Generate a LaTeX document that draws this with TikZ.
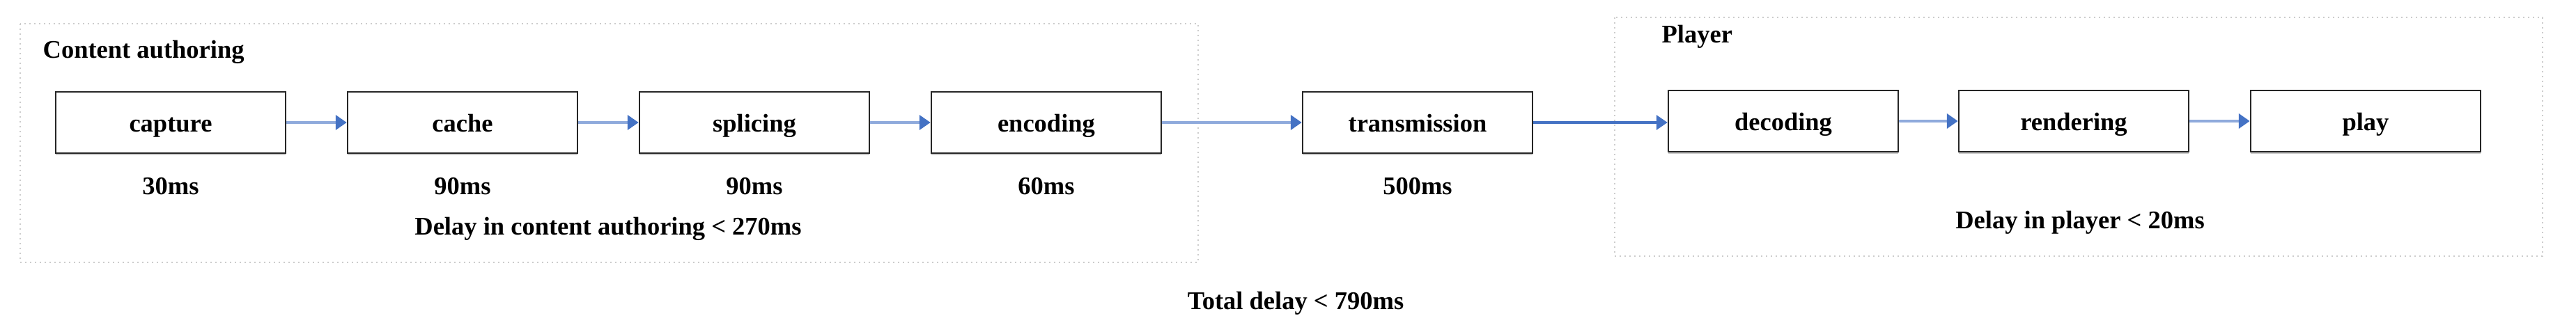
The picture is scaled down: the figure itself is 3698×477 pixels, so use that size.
\documentclass[tikz,border=0pt]{standalone}
\usepackage{fontspec}
\setmainfont{Liberation Serif}
\usetikzlibrary{arrows.meta}
\definecolor{lblue}{HTML}{8FAADC}
\definecolor{dblue}{HTML}{4472C4}
\begin{document}
\begin{tikzpicture}[x=0.2pt,y=-0.2pt,
  font=\fontsize{7.3}{9}\selectfont\bfseries,
  stepbox/.style={draw=black!85,line width=0.5pt,minimum width=66pt,minimum height=17.6pt,inner sep=0pt,fill=white,text height=1.5ex,text depth=0.3ex},
  grp/.style={draw=black!20,densely dotted,line width=0.4pt},
  arr/.style={lblue,line width=0.9pt,-{Triangle[length=3.2pt,width=4.2pt,fill=dblue,color=dblue]}},
  darr/.style={dblue,line width=0.7pt,-{Triangle[length=3.2pt,width=4.2pt]}}]
\useasboundingbox (0,0) rectangle (3698,477);
\draw[grp] (29,34) rectangle (1720,377);
\draw[grp] (2318,25) rectangle (3650,368);
\node[anchor=west] (ca) at (44,75) {Content authoring};
\node[anchor=west] (pl) at (2368,53) {Player};
\foreach \n/\x/\y/\t in {cap/245/176/capture,cac/664/176/cache,spl/1083/176/splicing,enc/1502/176/encoding,tra/2035/176/transmission,dec/2560/174/decoding,ren/2977/174/rendering,pla/3396/174/play}{
  \fill[black!20] (\x-165,\y+44) rectangle (\x+165,\y+47);
  \node[stepbox] (\n) at (\x,\y) {\t};
}
\draw[arr] (cap) -- (cac);
\draw[arr] (cac) -- (spl);
\draw[arr] (spl) -- (enc);
\draw[arr] (enc.east) -- (tra.west);
\draw[darr] (tra.east) -- (tra.east -| dec.west);
\draw[arr] (dec) -- (ren);
\draw[arr] (ren) -- (pla);
\node (t1) at (245,268) {30ms};
\node (t2) at (664,268) {90ms};
\node (t3) at (1083,268) {90ms};
\node (t4) at (1502,268) {60ms};
\node (t5) at (2035,268) {500ms};
\node (d1) at (873,329) {Delay in content authoring < 270ms};
\node (d2) at (2986,320) {Delay in player < 20ms};
\node (d3) at (1860,436) {Total delay < 790ms};
\end{tikzpicture}
\end{document}
